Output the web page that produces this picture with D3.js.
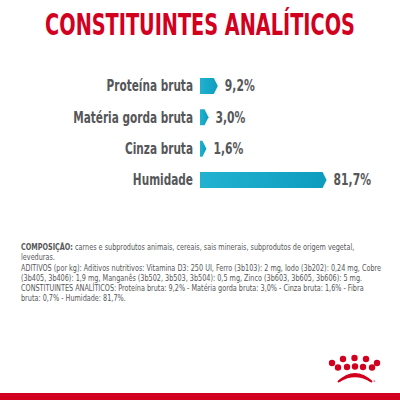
<!DOCTYPE html>
<html>
<head>
<meta charset="utf-8">
<title>Constituintes analíticos</title>
<script src="https://cdn.jsdelivr.net/npm/d3@7"></script>
<style>
  body { margin: 0; background: #fff; }
  svg { display: block; }
</style>
</head>
<body>
<script>
// data
var categories = ["Proteína bruta", "Matéria gorda bruta", "Cinza bruta", "Humidade"];
var values = [9.2, 3.0, 1.6, 81.7];
var valueLabels = ["9,2%", "3,0%", "1,6%", "81,7%"];

var title = "CONSTITUINTES ANALÍTICOS";
var notes = [
  [["COMPOSIÇÃO:", true], [" carnes e subprodutos animais, cereais, sais minerais, subprodutos de origem vegetal,", false]],
  [["leveduras.", false]],
  [["ADITIVOS (por kg): Aditivos nutritivos: Vitamina D3: 250 UI, Ferro (3b103): 2 mg, Iodo (3b202): 0,24 mg, Cobre", false]],
  [["(3b405, 3b406): 1,9 mg, Manganês (3b502, 3b503, 3b504): 0,5 mg, Zinco (3b603, 3b605, 3b606): 5 mg.", false]],
  [["CONSTITUINTES ANALÍTICOS: Proteína bruta: 9,2% - Matéria gorda bruta: 3,0% - Cinza bruta: 1,6% - Fibra", false]],
  [["bruta: 0,7% - Humidade: 81,7%.", false]]
];

var W = 400, H = 400;
var font = "'DejaVu Sans Condensed', 'DejaVu Sans', sans-serif";
var grey = "#555759", red = "#d2001e";

// the reference uses a narrow DIN-like face, so texts sit in groups squeezed sideways
function narrowText(parent, tx, ty, k) {
  return parent.append("g")
      .attr("transform", "translate(" + tx + "," + ty + ") scale(" + k + ",1)")
    .append("text");
}

var svg = d3.select("body").append("svg")
    .attr("width", W)
    .attr("height", H);

var defs = svg.append("defs");
var grad = defs.append("linearGradient").attr("id", "barGrad");
grad.append("stop").attr("offset", "0%").attr("stop-color", "#22b2d0");
grad.append("stop").attr("offset", "100%").attr("stop-color", "#0d9cbe");

// title, fitted to the width it has in the reference
var titleG = svg.append("g").attr("transform", "translate(200,35)");
var titleT = titleG.append("text")
    .attr("text-anchor", "middle")
    .style("font-family", font).style("font-weight", "bold")
    .style("font-size", "30px")
    .attr("fill", red)
    .text(title);
var titleK = 310 / titleT.node().getComputedTextLength();
titleG.attr("transform", "translate(200,35) scale(" + titleK + ",1)");

// scales
var x = d3.scaleLinear().domain([0, 100]).range([200, 350]);
var y = d3.scalePoint().domain(categories).range([86, 180]);
var barH = 16, tip = 4;

var rows = svg.selectAll(".row")
    .data(categories)
    .enter().append("g")
    .attr("class", "row");

rows.append("path")
    .attr("fill", "url(#barGrad)")
    .attr("d", function (d, i) {
      var x0 = x(0), x1 = x(values[i]), cy = y(d);
      return "M" + x0 + "," + (cy - barH / 2) +
             "L" + x1 + "," + (cy - barH / 2) +
             "L" + (x1 + tip) + "," + cy +
             "L" + x1 + "," + (cy + barH / 2) +
             "L" + x0 + "," + (cy + barH / 2) + "Z";
    });

rows.each(function (d, i) {
  var row = d3.select(this);
  narrowText(row, x(0) - 7, y(d), 0.78)
      .attr("dy", "0.36em")
      .attr("text-anchor", "end")
      .style("font-family", font).style("font-weight", "bold")
      .style("font-size", "15px")
      .attr("fill", grey)
      .text(d);
  narrowText(row, x(values[i]) + tip + 7, y(d), 0.8)
      .attr("dy", "0.36em")
      .style("font-family", font).style("font-weight", "bold")
      .style("font-size", "15px")
      .attr("fill", grey)
      .text(valueLabels[i]);
});

// notes block
var noteG = svg.append("g").attr("transform", "translate(21,250)");
var noteLines = [];
notes.forEach(function (line, i) {
  var t = noteG.append("text")
      .attr("y", i * 10.3)
      .style("font-family", font)
      .style("font-size", "9px")
      .attr("fill", grey);
  line.forEach(function (part) {
    t.append("tspan")
        .style("font-weight", part[1] ? "bold" : "normal")
        .text(part[0]);
  });
  noteLines.push(t);
});
// first line runs to about x = 355 in the reference
var noteK = 334 / noteLines[0].node().getComputedTextLength();
noteG.attr("transform", "translate(21,250) scale(" + noteK + ",1)");

// crown logo
var logo = svg.append("g").attr("fill", red);
var dotsTop = [[332, 363], [343, 359], [354.5, 358], [366, 359], [377, 363]];
var dotsLow = [[338, 367.5], [347, 367], [355, 366.5], [363, 367], [372, 367.5]];
dotsTop.concat(dotsLow).forEach(function (p) {
  logo.append("circle").attr("cx", p[0]).attr("cy", p[1]).attr("r", 3.2);
});
[0, 3, 6].forEach(function (o) {
  logo.append("path")
      .attr("fill", "none")
      .attr("stroke", red)
      .attr("stroke-width", 1.8)
      .attr("d", "M" + (338 + o * 0.3) + "," + (382 - o * 0.2) +
                 " Q355," + (366 + o) + " " + (372 - o * 0.3) + "," + (382 - o * 0.2));
});
logo.append("text").attr("x", 373).attr("y", 382)
    .style("font-family", font).style("font-size", "3px").text("®");

// bottom band
svg.append("rect")
    .attr("x", 0).attr("y", 393)
    .attr("width", W).attr("height", 7)
    .attr("fill", red);
</script>
</body>
</html>
